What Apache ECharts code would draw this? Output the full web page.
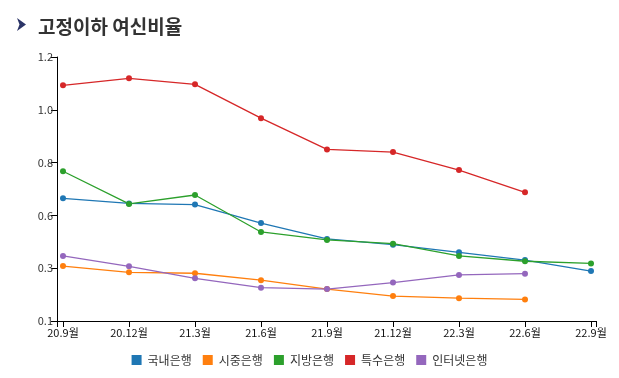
<!DOCTYPE html>
<html><head><meta charset="utf-8">
<script src="https://cdn.jsdelivr.net/npm/echarts@6/dist/echarts.min.js"></script>
<style>html,body{margin:0;padding:0;background:#fff}#c{width:619px;height:378px}</style>
</head><body><div id="c"></div>
<script>
const categories = ['20.9월','20.12월','21.3월','21.6월','21.9월','21.12월','22.3월','22.6월','22.9월'];
const seriesNames = ['국내은행','시중은행','지방은행','특수은행','인터넷은행'];
const domestic = [0.631,0.610,0.605,0.528,0.462,0.438,0.406,0.374,0.328];
const commercial = [0.349,0.323,0.319,0.290,0.253,0.224,0.215,0.210,null];
const regional = [0.744,0.608,0.645,0.491,0.458,0.442,0.391,0.369,0.360];
const special = [1.102,1.131,1.106,0.965,0.835,0.824,0.749,0.656,null];
const internet = [0.391,0.348,0.298,0.259,0.253,0.280,0.312,0.317,null];
const colors = ['#1f77b4','#ff7f0e','#2ca02c','#d62728','#9467bd'];
const yMin = 0.12, yMax = 1.22, yStep = 0.22;

const FONT = '"Noto Sans CJK KR", "Noto Sans", sans-serif';
const allData = [domestic, commercial, regional, special, internet];
const chart = echarts.init(document.getElementById('c'));
const L = 63, R = 28, T = 57, B = 57, W = 619, H = 378;
const axisY = H - B;
chart.setOption({
  animation: false,
  color: colors,
  title: {
    left: 33, top: 12,
    text: '고정이하 여신비율',
    textStyle: { color: '#333', fontSize: 19, fontWeight: 'bold', fontFamily: FONT }
  },
  graphic: [
    { type: 'polygon', shape: { points: [[17,18],[26,24.5],[17,31],[19.5,24.5]] }, style: { fill: '#2b3467' } },
    { type: 'line', shape: { x1: L - 6, y1: axisY + 0.5, x2: L, y2: axisY + 0.5 }, style: { stroke: '#000', lineWidth: 1 } },
    { type: 'line', shape: { x1: L - 5.5, y1: axisY, x2: L - 5.5, y2: axisY + 6 }, style: { stroke: '#000', lineWidth: 1 } },
    { type: 'line', shape: { x1: W - R, y1: axisY + 0.5, x2: W - R + 6, y2: axisY + 0.5 }, style: { stroke: '#000', lineWidth: 1 } },
    { type: 'line', shape: { x1: W - R + 5.5, y1: axisY, x2: W - R + 5.5, y2: axisY + 6 }, style: { stroke: '#000', lineWidth: 1 } }
  ],
  legend: {
    top: 349, left: 'center', icon: 'rect', itemWidth: 10, itemHeight: 10, itemGap: 11,
    textStyle: { fontSize: 12, color: '#333', fontFamily: FONT, padding: [0,0,0,1] },
    data: seriesNames
  },
  grid: { left: L, right: R, top: T, bottom: B },
  xAxis: {
    type: 'category', data: categories, boundaryGap: false,
    axisLine: { lineStyle: { color: '#000', width: 1 } },
    axisTick: { alignWithLabel: true, length: 6, lineStyle: { color: '#000' } },
    axisLabel: { interval: 0, fontSize: 11, color: '#111', margin: 6, fontFamily: FONT },
    splitLine: { show: false }
  },
  yAxis: {
    type: 'value', min: yMin, max: yMax, interval: yStep, offset: 6,
    axisLine: { show: true, lineStyle: { color: '#000', width: 1 } },
    axisTick: { show: true, length: 6, lineStyle: { color: '#000' } },
    axisLabel: { fontSize: 11, color: '#333', margin: 4, fontFamily: FONT,
      formatter: v => v.toFixed(1) },
    splitLine: { show: false }
  },
  series: seriesNames.map((n, i) => ({
    name: n, type: 'line', data: allData[i],
    symbol: 'circle', symbolSize: 6, showSymbol: true,
    lineStyle: { width: 1.3 }, connectNulls: false
  }))
});
</script></body></html>
